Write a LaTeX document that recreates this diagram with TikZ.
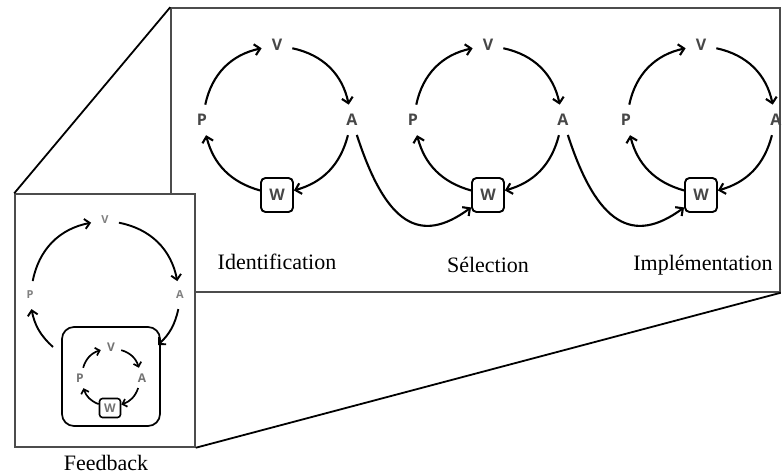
\documentclass[tikz,border=0pt]{standalone}
\usepackage{fontspec}
\setmainfont{Liberation Serif}
\newfontfamily\lblfont{Open Sans}
\usetikzlibrary{arrows.meta}
\begin{document}
\begin{tikzpicture}[x=1pt,y=1pt,
  frame/.style={draw=black!70, line width=1.5pt, inner sep=0pt},
  diag/.style={line width=1.8pt, black},
  lbl/.style={circle, inner sep=0pt, minimum size=31pt, font=\lblfont\bfseries\fontsize{16}{16}\selectfont, text=black!72},
  lblf/.style={circle, inner sep=0pt, minimum size=28pt, font=\lblfont\bfseries\fontsize{11}{11}\selectfont, text=black!50},
  lbli/.style={circle, inner sep=0pt, minimum size=21pt, font=\lblfont\bfseries\fontsize{12}{12}\selectfont, text=black!55},
  wbox/.style={draw, rounded corners=4.5pt, line width=1.9pt, minimum width=32pt, minimum height=34pt, inner sep=0pt, font=\lblfont\bfseries\fontsize{16}{16}\selectfont, text=black!72},
  wboxi/.style={draw, rounded corners=3pt, line width=1.6pt, minimum width=21pt, minimum height=19pt, inner sep=0pt, font=\lblfont\bfseries\fontsize{12}{12}\selectfont, text=black!55},
  ibox/.style={draw, rounded corners=12pt, line width=1.7pt, minimum width=98pt, minimum height=99pt, inner sep=0pt},
  arr/.style={line width=2.1pt, -{Straight Barb[length=5.5pt,width=11pt]}},
  arrf/.style={line width=1.9pt, -{Straight Barb[length=5pt,width=10pt]}},
  arri/.style={line width=1.7pt, -{Straight Barb[length=4pt,width=8pt]}},
  captxt/.style={font=\fontsize{22}{24}\selectfont, inner sep=0pt}
]
\useasboundingbox (0,0) rectangle (782,475);
% frames
\node[frame, minimum width=609pt, minimum height=284pt] (big) at (475.5,325) {};
\node[frame, fill=white, minimum width=180pt, minimum height=253pt] (fb) at (105,154.5) {};
\draw[diag] (fb.north west) -- (big.north west);
\draw[diag] (fb.south east) -- (big.south east);

% three cycles
\foreach \cx/\n in {277/1,488/2,701/3}{
  \node[lbl] (V\n) at (\cx,430) {V};
  \node[lbl] (P\n) at (\cx-75,355) {P};
  \node[lbl] (A\n) at (\cx+75,355) {A};
  \node[wbox] (W\n) at (\cx,280) {W};
  \draw[arr] (P\n) to[bend left=33] (V\n);
  \draw[arr] (V\n) to[bend left=33] (A\n);
  \draw[arr] (A\n) to[bend left=30] (W\n);
  \draw[arr] (W\n) to[bend left=30] (P\n);
}
\draw[arr] (A1) .. controls +(34,-105) and +(-68,-50) .. (W2);
\draw[arr] (A2) .. controls +(34,-105) and +(-68,-50) .. (W3);

\node[captxt] (t1) at (277,213) {Identification};
\node[captxt] (t2) at (488,210) {Sélection};
\node[captxt] (t3) at (703,210) {Implémentation};

% feedback
\node[lblf] (fV) at (105,255) {V};
\node[lblf] (fP) at (30,180) {P};
\node[lblf] (fA) at (180,180) {A};
\node[ibox] (fin) at (111,98.5) {};
\coordinate (fqe) at (158,130);
\coordinate (fqw) at (53,128);
\draw[arrf] (fP) to[bend left=34] (fV);
\draw[arrf] (fV) to[bend left=34] (fA);
\draw[arrf] (fA) to[bend left=17] (fqe);
\draw[arrf] (fqw) to[bend left=18] (fP);

\node[lbli] (iV) at (111,128) {V};
\node[lbli] (iP) at (80,97) {P};
\node[lbli] (iA) at (142,97) {A};
\node[wboxi] (iW) at (110,67) {W};
\draw[arri] (iP) to[bend left=28] (iV);
\draw[arri] (iV) to[bend left=28] (iA);
\draw[arri] (iA) to[bend left=26] (iW);
\draw[arri] (iW) to[bend left=26] (iP);

\node[captxt] (tf) at (106,12) {Feedback};
\end{tikzpicture}
\end{document}
